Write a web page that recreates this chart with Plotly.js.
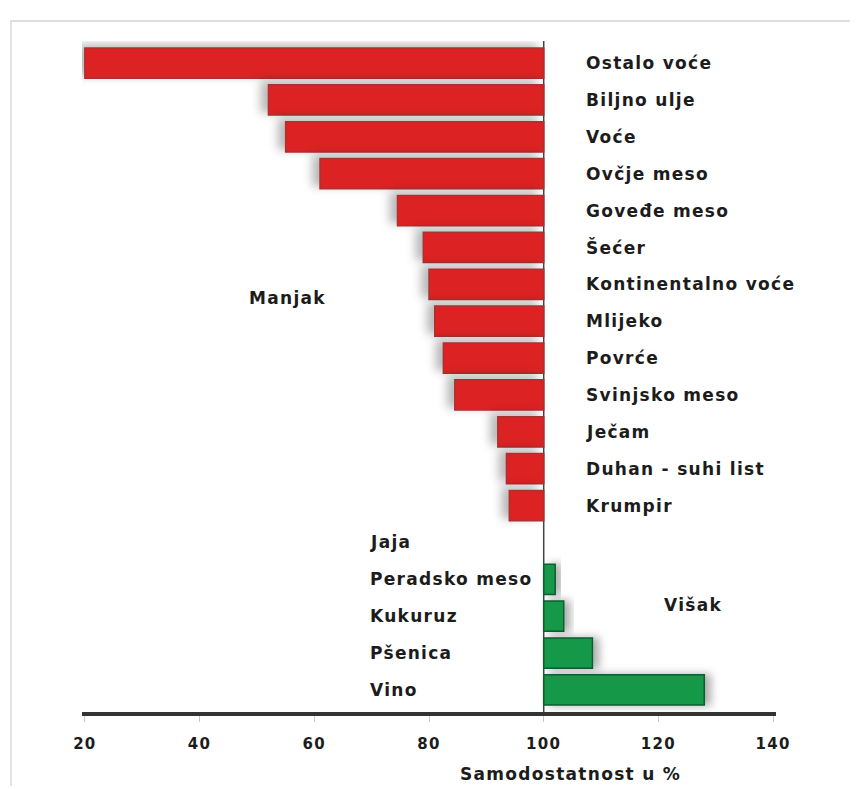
<!DOCTYPE html>
<html>
<head>
<meta charset="utf-8">
<script src="https://cdn.plot.ly/plotly-3.0.1.min.js"></script>
<style>
  html, body { margin: 0; padding: 0; background: #fff; }
  #wrap { position: relative; width: 856px; height: 789px; }
  #chart { width: 856px; height: 789px; }
  #frame { position: absolute; left: 10px; top: 20px; width: 838px; height: 764px;
           border-top: 2px solid #ddd; border-left: 2px solid #e2e2e2; pointer-events: none; }
  .annotation-text, .xtick text { letter-spacing: 1.3px; }
</style>
</head>
<body>
<div id="wrap">
  <div id="chart"></div>
  <div id="frame"></div>
</div>
<script>
const categories = ["Ostalo voće","Biljno ulje","Voće","Ovčje meso","Goveđe meso","Šećer",
  "Kontinentalno voće","Mlijeko","Povrće","Svinjsko meso","Ječam","Duhan - suhi list",
  "Krumpir","Jaja","Peradsko meso","Kukuruz","Pšenica","Vino"];
const values = [20, 52, 55, 61, 74.5, 79, 80, 81, 82.5, 84.5, 92, 93.5, 94, 100, 102, 103.5, 108.5, 128];
const tickValues = [20, 40, 60, 80, 100, 120, 140];
const baseline = 100;
const groupLabels = ["Manjak", "Višak"];
const axisLabel = "Samodostatnost u %";

const idx = categories.map((c, i) => i);
const deficit = idx.filter(i => values[i] < baseline);
const surplus = idx.filter(i => values[i] >= baseline);

const labelFont = {family: "DejaVu Sans", size: 17, color: "#1c1c1c", weight: "bold"};

const traces = [
  {
    type: "bar", orientation: "h",
    y: deficit.map(i => i), x: deficit.map(i => values[i] - baseline), base: baseline,
    width: 0.82,
    marker: {color: "#dc2424", line: {color: "#a83030", width: 1.5}},
    hoverinfo: "skip", showlegend: false
  },
  {
    type: "bar", orientation: "h",
    y: surplus.map(i => i), x: surplus.map(i => values[i] - baseline), base: baseline,
    width: 0.82,
    marker: {color: "#14984a", line: {color: "#0f5e30", width: 1.5}},
    hoverinfo: "skip", showlegend: false
  }
];

const annotations = idx.map(i => ({
  x: values[i] < baseline ? 107 : 69.4, y: i, xref: "x", yref: "y",
  text: categories[i], showarrow: false, xanchor: "left", yanchor: "middle",
  font: labelFont
}));
annotations.push({x: 55.4, y: 6.37, xref: "x", yref: "y", text: groupLabels[0], showarrow: false,
  xanchor: "center", yanchor: "middle", font: labelFont});
annotations.push({x: 126, y: 14.7, xref: "x", yref: "y", text: groupLabels[1], showarrow: false,
  xanchor: "center", yanchor: "middle", font: labelFont});
annotations.push({x: 104.6, y: -0.093, xref: "x", yref: "paper", text: axisLabel, showarrow: false,
  xanchor: "center", yanchor: "middle", font: {family: "DejaVu Sans", size: 17, color: "#1c1c1c", weight: "bold"}});

const layout = {
  width: 856, height: 789,
  margin: {l: 82, r: 80, t: 41, b: 77},
  paper_bgcolor: "#ffffff", plot_bgcolor: "#ffffff",
  barmode: "overlay",
  xaxis: {
    range: [19.5, 140.5], tickvals: tickValues, ticktext: tickValues.map(String),
    showgrid: false, zeroline: false,
    showline: true, linecolor: "#333333", linewidth: 4,
    ticks: "outside", ticklen: 6, tickcolor: "#c8c8c8", tickwidth: 1,
    ticklabelstandoff: 9,
    tickfont: {family: "DejaVu Sans", size: 15, color: "#1c1c1c", weight: "bold"}
  },
  yaxis: {
    range: [17.6, -0.6], showgrid: false, zeroline: false, showline: false,
    showticklabels: false, ticks: ""
  },
  shapes: [
    {type: "line", xref: "x", yref: "paper", x0: baseline, x1: baseline, y0: 0, y1: 1,
     line: {color: "#444444", width: 1.5}, layer: "below"}
  ],
  annotations: annotations
};

Plotly.newPlot("chart", traces, layout, {displayModeBar: false, staticPlot: true}).then(gd => {
  const NS = "http://www.w3.org/2000/svg";
  const svg = gd.querySelector("svg.main-svg");
  let defs = svg.querySelector("defs");
  if (!defs) { defs = document.createElementNS(NS, "defs"); svg.insertBefore(defs, svg.firstChild); }
  function makeShadow(id, dx, dy, blur, op) {
    const f = document.createElementNS(NS, "filter");
    f.setAttribute("id", id);
    f.setAttribute("x", "-50%"); f.setAttribute("y", "-80%");
    f.setAttribute("width", "200%"); f.setAttribute("height", "260%");
    const s = document.createElementNS(NS, "feDropShadow");
    s.setAttribute("dx", dx); s.setAttribute("dy", dy);
    s.setAttribute("stdDeviation", blur);
    s.setAttribute("flood-color", "#000"); s.setAttribute("flood-opacity", op);
    f.appendChild(s);
    defs.appendChild(f);
  }
  makeShadow("shRed", -7, -3, 5, 0.28);
  makeShadow("shGreen", 6, 0, 4, 0.32);
  const groups = gd.querySelectorAll("g.trace.bars");
  if (groups[0]) groups[0].querySelectorAll("path").forEach(p => p.setAttribute("filter", "url(#shRed)"));
  if (groups[1]) groups[1].querySelectorAll("path").forEach(p => p.setAttribute("filter", "url(#shGreen)"));
});
</script>
</body>
</html>
